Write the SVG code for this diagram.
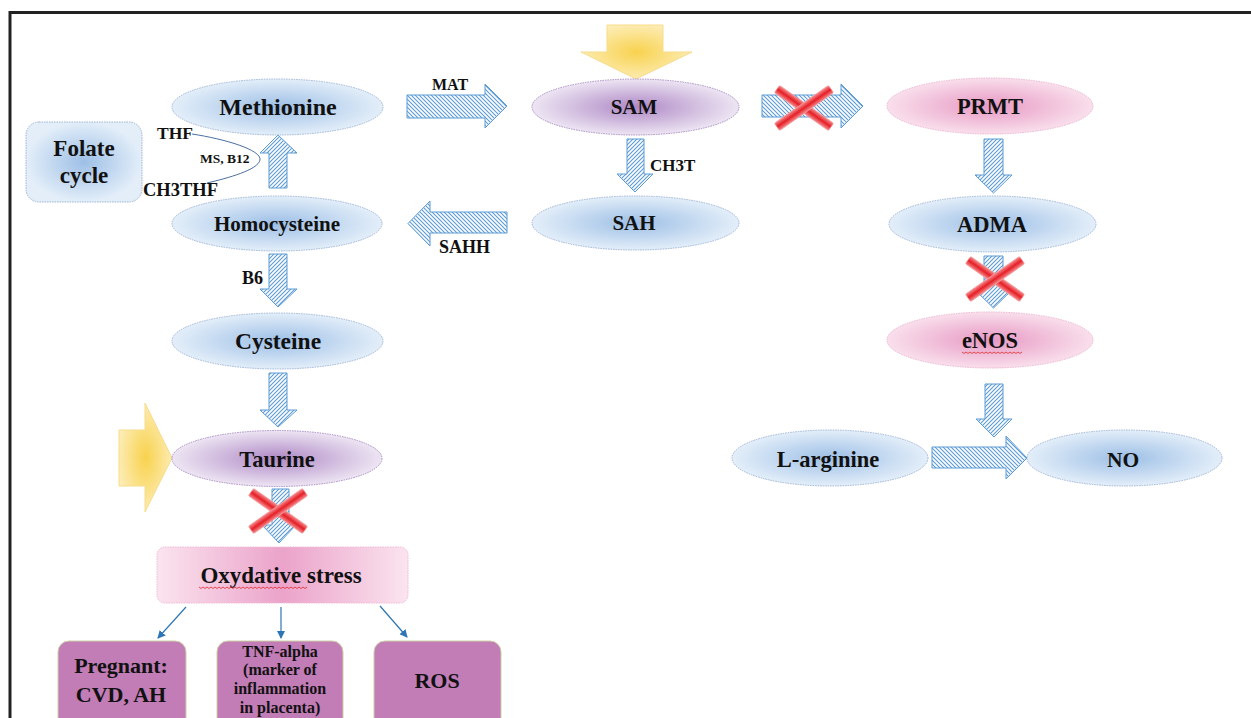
<svg xmlns="http://www.w3.org/2000/svg" width="1251" height="718" viewBox="0 0 1251 718">
<defs>
<style>
text{font-family:"Liberation Serif","Times New Roman",serif;font-weight:bold;fill:#111;}
.lbl{text-anchor:middle;}
.blue{fill:url(#gBlue);stroke:#9db4d6;stroke-width:1;stroke-dasharray:1.5 1;}
.purp{fill:url(#gPurp);stroke:#a98cc4;stroke-width:1;stroke-dasharray:1.5 1;}
.pink{fill:url(#gPink);stroke:#eeb3cf;stroke-width:1;stroke-dasharray:1.5 1;}
.hv{fill:url(#hatchV);stroke:#5b9bd5;stroke-width:1;}
.hh{fill:url(#hatchH);stroke:#5b9bd5;stroke-width:1;}
.yel{fill:url(#gYel);stroke:#f7dc8a;stroke-width:1;}
.xbar{fill:url(#gRed);stroke:#f29a9c;stroke-width:0.8;}
.conn{stroke:#2e75b6;stroke-width:1.2;fill:none;marker-end:url(#ah);}
.box{fill:#c27cb6;stroke:#cbd0a4;stroke-width:1;}
.wavy{fill:none;stroke:#e02a2a;stroke-width:0.8;}
</style>
<radialGradient id="gBlue" cx="0.5" cy="0.5" r="0.5"><stop offset="0" stop-color="#9dbfe6"/><stop offset="1" stop-color="#e3eef9"/></radialGradient>
<radialGradient id="gPurp" cx="0.5" cy="0.5" r="0.5"><stop offset="0" stop-color="#ae88c5"/><stop offset="1" stop-color="#ede5f3"/></radialGradient>
<radialGradient id="gPink" cx="0.5" cy="0.5" r="0.5"><stop offset="0" stop-color="#e798c3"/><stop offset="1" stop-color="#f9dfec"/></radialGradient>
<radialGradient id="gYel" cx="0.5" cy="0.5" r="0.55"><stop offset="0" stop-color="#f8d24e"/><stop offset="1" stop-color="#fdeebb"/></radialGradient>
<linearGradient id="gOxy" x1="0" y1="0" x2="1" y2="0"><stop offset="0" stop-color="#fbe4ef"/><stop offset="0.5" stop-color="#eba3ca"/><stop offset="1" stop-color="#fbe4ef"/></linearGradient>
<linearGradient id="gRed" x1="0" y1="0" x2="0" y2="1"><stop offset="0" stop-color="#f48a8c"/><stop offset="0.5" stop-color="#e61e26"/><stop offset="1" stop-color="#f48a8c"/></linearGradient>
<pattern id="hatchV" patternUnits="userSpaceOnUse" width="4" height="4"><rect width="4" height="4" fill="#ffffff"/><path d="M-1,1 l2,-2 M0,4 l4,-4 M3,5 l2,-2" stroke="#5b9bd5" stroke-width="1.1"/></pattern>
<pattern id="hatchH" patternUnits="userSpaceOnUse" width="4" height="4"><rect width="4" height="4" fill="#ffffff"/><path d="M-1,3 l2,2 M0,0 l4,4 M3,-1 l2,2" stroke="#5b9bd5" stroke-width="1.1"/></pattern>
<marker id="ah" markerWidth="8" markerHeight="8" refX="7" refY="4" orient="auto" markerUnits="userSpaceOnUse"><path d="M0,0 L8,4 L0,8 Z" fill="#2e75b6"/></marker>
<g id="xmark"><rect x="-33" y="-4.5" width="66" height="9" rx="1.5" class="xbar" transform="rotate(35)"/><rect x="-33" y="-4.5" width="66" height="9" rx="1.5" class="xbar" transform="rotate(-35)"/></g>
</defs>
<rect width="1251" height="718" fill="#ffffff"/>
<path d="M10,718 L10,12.5 L1251,12.5" fill="none" stroke="#222" stroke-width="3"/>

<g id="connectors">
<polygon class="hv" points="278,135 297,153 287,153 287,188 269,188 269,153 260,153"/>
<polygon class="hv" points="269,254 287,254 287,289 297,289 278,307 260,289 269,289"/>
<polygon class="hv" points="269,373 287,373 287,410 297,410 278,427 260,410 269,410"/>
<polygon class="hv" points="272,489 289,489 289,525 296,525 279,543 262,525 272,525"/>
<polygon class="hh" points="407,95 485,95 485,84 507,106 485,128 485,118 407,118"/>
<polygon class="hv" points="627,139 644,139 644,174 653,174 635,192 617,174 627,174"/>
<polygon class="hh" points="507,212 430,212 430,201 408,223.5 430,246 430,233 507,233"/>
<polygon class="hh" points="762,95 841,95 841,84 863,106 841,128 841,117 762,117"/>
<polygon class="hv" points="984,139 1003,139 1003,175 1012,175 993.5,193 975,175 984,175"/>
<polygon class="hv" points="984,256 1003,256 1003,290 1012,290 993.5,308 975,290 984,290"/>
<polygon class="hv" points="985,384 1003,384 1003,419 1012,419 994,437 976,419 985,419"/>
<polygon class="hh" points="932,447 1006,447 1006,436 1027,458 1006,479 1006,468 932,468"/>
<polygon class="yel" points="607,25 663,25 663,52 692,52 636,79 581,52 607,52"/>
<polygon class="yel" points="119,430 145,430 145,403 172,458 145,512 145,486 119,486"/>
<path d="M192,134 C225,139 262,150 260,160 C258,170 228,178 207,183" fill="none" stroke="#4a6fa0" stroke-width="1"/>
<line class="conn" x1="186" y1="607" x2="158" y2="638"/>
<line class="conn" x1="281" y1="607" x2="281" y2="638"/>
<line class="conn" x1="380" y1="606" x2="407" y2="637"/>
<use href="#xmark" x="804" y="108"/>
<use href="#xmark" x="995" y="279"/>
<use href="#xmark" x="278" y="511"/>
<text x="432" y="90" style="font-size:16px">MAT</text>
<text x="650" y="171" style="font-size:17px">CH3T</text>
<text x="439" y="253" style="font-size:18px">SAHH</text>
<text x="242" y="284" style="font-size:18px">B6</text>
<text x="157" y="139" style="font-size:17.5px">THF</text>
<text x="143" y="196" style="font-size:18.5px">CH3THF</text>
<text x="200" y="163" style="font-size:13.5px">MS, B12</text>
</g>

<g id="folate"><rect x="26" y="122" width="116" height="80" rx="13" class="blue"/><text class="lbl" x="84" y="156" style="font-size:23px">Folate</text><text class="lbl" x="84" y="183" style="font-size:23px">cycle</text></g>
<g id="methionine"><ellipse cx="277.5" cy="107" rx="105.5" ry="28" class="blue"/><text class="lbl" x="278" y="115" style="font-size:24px">Methionine</text></g>
<g id="homocysteine"><ellipse cx="277" cy="223.5" rx="105" ry="27.5" class="blue"/><text class="lbl" x="277" y="231" style="font-size:21px">Homocysteine</text></g>
<g id="cysteine"><ellipse cx="277.5" cy="341" rx="105.5" ry="28" class="blue"/><text class="lbl" x="278" y="349" style="font-size:23.5px">Cysteine</text></g>
<g id="taurine"><ellipse cx="277" cy="458.5" rx="105" ry="28" class="purp"/><text class="lbl" x="277" y="467" style="font-size:22.5px">Taurine</text></g>
<g id="sam"><ellipse cx="635.5" cy="107" rx="103.5" ry="28" class="purp"/><text class="lbl" x="634" y="114" style="font-size:21px">SAM</text></g>
<g id="sah"><ellipse cx="635.5" cy="223" rx="103.5" ry="27" class="blue"/><text class="lbl" x="634" y="230" style="font-size:21px">SAH</text></g>
<g id="prmt"><ellipse cx="990" cy="106" rx="103" ry="28" class="pink"/><text class="lbl" x="990" y="114" style="font-size:22.5px">PRMT</text></g>
<g id="adma"><ellipse cx="992.5" cy="224" rx="103.5" ry="28" class="blue"/><text class="lbl" x="992" y="232" style="font-size:22.5px">ADMA</text></g>
<g id="enos"><ellipse cx="990" cy="340" rx="103" ry="28" class="pink"/><text class="lbl" x="990" y="348" style="font-size:22.5px">eNOS</text><path class="wavy" d="M962,352 l2,1.5 l2,-1.5 l2,1.5 l2,-1.5 l2,1.5 l2,-1.5 l2,1.5 l2,-1.5 l2,1.5 l2,-1.5 l2,1.5 l2,-1.5 l2,1.5 l2,-1.5 l2,1.5 l2,-1.5 l2,1.5 l2,-1.5 l2,1.5 l2,-1.5 l2,1.5 l2,-1.5 l2,1.5 l2,-1.5 l2,1.5 l2,-1.5 l2,1.5 l2,-1.5 l2,1.5 l2,-1.5"/></g>
<g id="larginine"><ellipse cx="830" cy="458" rx="98" ry="28" class="blue"/><text class="lbl" x="828" y="467" style="font-size:22.5px">L-arginine</text></g>
<g id="no"><ellipse cx="1124.5" cy="458" rx="97.5" ry="28" class="blue"/><text class="lbl" x="1123" y="467" style="font-size:21.5px">NO</text></g>
<g id="oxidative"><rect x="157" y="547" width="251" height="56" rx="8" fill="url(#gOxy)" stroke="#f2b8d4" stroke-width="1" stroke-dasharray="1.5 1"/><text class="lbl" x="281" y="583" style="font-size:23px">Oxydative stress</text><path class="wavy" d="M199,587 l2,1.5 l2,-1.5 l2,1.5 l2,-1.5 l2,1.5 l2,-1.5 l2,1.5 l2,-1.5 l2,1.5 l2,-1.5 l2,1.5 l2,-1.5 l2,1.5 l2,-1.5 l2,1.5 l2,-1.5 l2,1.5 l2,-1.5 l2,1.5 l2,-1.5 l2,1.5 l2,-1.5 l2,1.5 l2,-1.5 l2,1.5 l2,-1.5 l2,1.5 l2,-1.5 l2,1.5 l2,-1.5 l2,1.5 l2,-1.5 l2,1.5 l2,-1.5 l2,1.5 l2,-1.5 l2,1.5 l2,-1.5 l2,1.5 l2,-1.5 l2,1.5 l2,-1.5 l2,1.5 l2,-1.5 l2,1.5 l2,-1.5 l2,1.5 l2,-1.5 l2,1.5 l2,-1.5 l2,1.5 l2,-1.5 l2,1.5 l2,-1.5"/></g>
<g id="pregnant"><rect x="58" y="641" width="128" height="92" rx="11" class="box"/><text class="lbl" x="121" y="673" style="font-size:22px">Pregnant:</text><text class="lbl" x="121" y="702" style="font-size:22px">CVD, AH</text></g>
<g id="tnf"><rect x="217" y="641" width="126" height="92" rx="11" class="box"/><text class="lbl" x="280" y="657" style="font-size:16px">TNF-alpha</text><text class="lbl" x="280" y="675" style="font-size:16px">(marker of</text><text class="lbl" x="280" y="694" style="font-size:16px">inflammation</text><text class="lbl" x="280" y="713" style="font-size:16px">in placenta)</text></g>
<g id="ros"><rect x="374" y="641" width="127" height="92" rx="11" class="box"/><text class="lbl" x="437" y="688" style="font-size:22px">ROS</text></g>
</svg>
